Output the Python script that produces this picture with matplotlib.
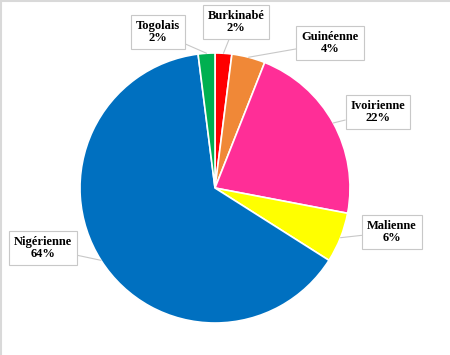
import numpy as np
import matplotlib.pyplot as plt

labels = ['Burkinabé', 'Guinéenne', 'Ivoirienne', 'Malienne', 'Nigérienne', 'Togolais']
shares = [2, 4, 22, 6, 64, 2]
colors = ['#FF0000', '#F08837', '#FF2E97', '#FFFF00', '#0070C0', '#00B050']

# label box centres in pixel coords (y from top)
label_pos = [(236, 22), (330, 43), (378, 112), (392, 232), (43, 248), (158, 32)]

W, H = 450, 355
fig = plt.figure(figsize=(W / 100, H / 100), dpi=100)
ax = fig.add_axes([0, 0, 1, 1])

cx, cy, r = 215, H - 188, 135
wedges, _ = ax.pie(shares, colors=colors, startangle=90, counterclock=False,
                   center=(cx, cy), radius=r, frame=True,
                   wedgeprops=dict(edgecolor='white', linewidth=1.2))
ax.set_xlim(0, W)
ax.set_ylim(0, H)
ax.set_aspect('equal')
ax.axis('off')

for w, lab, val, (lx, ly) in zip(wedges, labels, shares, label_pos):
    ang = np.deg2rad((w.theta1 + w.theta2) / 2)
    px = cx + r * np.cos(ang)
    py = cy + r * np.sin(ang)
    ax.annotate(f'{lab}\n{val}%', xy=(px, py), xytext=(lx, H - ly),
                ha='center', va='center', fontsize=9, fontweight='bold',
                family='Liberation Serif', linespacing=1.05,
                bbox=dict(boxstyle='square,pad=0.4', fc='white', ec='#C8C8C8', lw=0.8),
                arrowprops=dict(arrowstyle='-', color='#C8C8C8', lw=0.8,
                                shrinkA=0, shrinkB=0))

# thin frame on top and left edges
fig.add_artist(plt.Line2D([0, 1], [0.998, 0.998], transform=fig.transFigure, color='#D9D9D9', lw=1.5))
fig.add_artist(plt.Line2D([0.002, 0.002], [0, 1], transform=fig.transFigure, color='#D9D9D9', lw=1.5))

fig.savefig('out.png', dpi=100)
